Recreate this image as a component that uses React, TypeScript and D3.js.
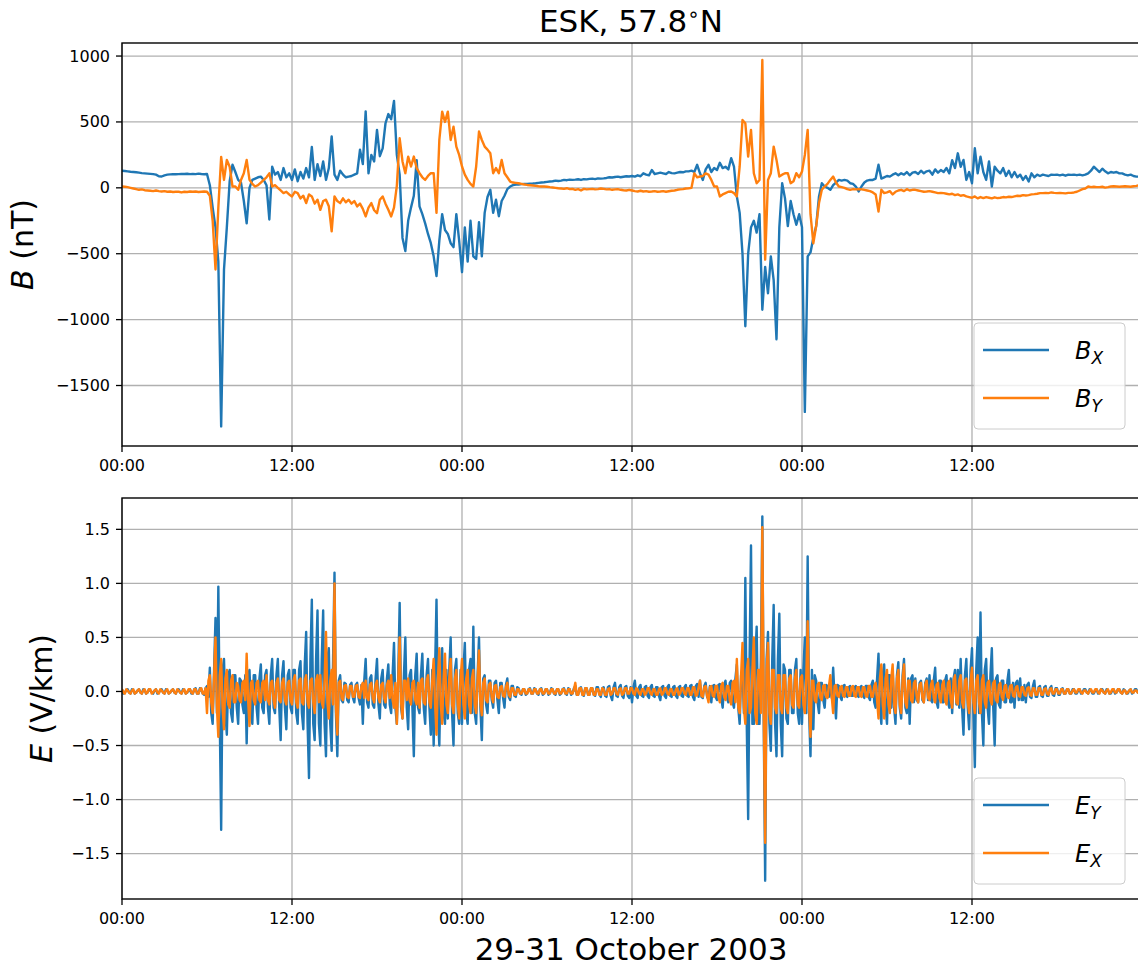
import React, { useEffect, useRef } from 'react'
import * as d3 from 'd3'

const W = 1138
const H = 968
const FONT = 'DejaVu Sans, Liberation Sans, sans-serif'
const BLUE = '#1f77b4'
const ORANGE = '#ff7f0e'

// hours from 29 Oct 2003 00:00 UT; B sampled every 0.2 h, E every 0.1 h (one row per hour)
const B_STEP = 0.2
const E_STEP = 0.1
const HOUR_TICKS = [0, 12, 24, 36, 48, 60]
const HOUR_LABELS = ['00:00', '12:00', '00:00', '12:00', '00:00', '12:00']
const B_TICKS = [1000, 500, 0, -500, -1000, -1500]
const E_TICKS = [1.5, 1.0, 0.5, 0.0, -0.5, -1.0, -1.5]

const bx = [
  130, 128, 125, 122, 120,
  118, 115, 112, 110, 108,
  106, 104, 100, 88, 86,
  95, 100, 102, 104, 103,
  104, 106, 105, 107, 104,
  106, 104, 108, 105, 103,
  105, 20, -150, -300, -560,
  -1810, -620, -300, 50, 175,
  120, 60, 40, -100, -270,
  0, 60, 70, 80, 85,
  60, 20, -240, 160, 100,
  120, 60, 150, 80, 110,
  60, 140, 50, 120, 70,
  150, 80, 310, 60, 180,
  90, 200, 60, 150, 390,
  100, 60, 130, 100, 80,
  85, 90, 100, 110, 290,
  180, 580, 110, 250, 200,
  440, 240, 300, 490, 560,
  520, 660, 250, 100, -380,
  -480, -250, -150, -60, 210,
  -140, -200, -270, -350, -420,
  -520, -670, -400, -200, -320,
  -350, -420, -450, -200, -400,
  -640, -300, -560, -250, -520,
  -540, -260, -520, -190, -70,
  -15, -190, -90, -215, -100,
  -60, -10, 10, 20, 25,
  25, 28, 30, 30, 32,
  33, 35, 38, 40, 42,
  45, 48, 50, 55, 52,
  55, 60, 58, 62, 60,
  62, 65, 60, 66, 64,
  68, 70, 66, 72, 70,
  72, 75, 80, 78, 82,
  85, 80, 84, 88, 86,
  90, 85, 95, 88, 110,
  100, 95, 135, 105, 110,
  115, 110, 105, 120, 112,
  110, 115, 120, 118, 125,
  125, 130, 120, 175, 110,
  60, 140, 175, 120, 150,
  135, 190, 150, 160, 140,
  225, 160, -65, -190, -500,
  -1050, -500, -300, -250, -340,
  -200, -925, -600, -800, -520,
  -700, -1150, -300, 35, -80,
  -290, -100, -200, -280, -200,
  -300, -1700, -520, -490, -380,
  -290, -65, 35, 10, 0,
  -15, 20, 40, 60, 55,
  60, 55, 35, 30, 10,
  -28, 10, 40, 55, 60,
  60, 70, 175, 70, 80,
  90, 85, 100, 110, 95,
  110, 100, 120, 95, 115,
  120, 105, 130, 110, 125,
  130, 100, 140, 115, 135,
  120, 150, 110, 210, 150,
  262, 160, 212, 60, 120,
  35, 300, 110, 237, 120,
  60, 200, 10, 160, 130,
  110, 150, 90, 130, 80,
  120, 80, 100, 60, 90,
  48, 110, 80, 100, 90,
  100, 95, 90, 100, 98,
  100, 95, 100, 92, 100,
  98, 100, 96, 100, 95,
  100, 110, 130, 160, 140,
  120, 145, 125, 110, 120,
  115, 120, 110, 110, 100,
  95, 100, 90, 85, 85,
  85,
]

const by = [
  10, 8, 5, 0, -5,
  -10, -15, -12, -18, -20,
  -22, -25, -20, -25, -28,
  -25, -30, -28, -32, -30,
  -30, -35, -30, -32, -28,
  -30, -28, -32, -30, -28,
  -30, -60, -250, -620, -150,
  235, 60, 212, 160, 10,
  10, -15, 60, 110, 212,
  60, 30, 10, 20, 40,
  60, 80, 110, 10, 20,
  0, -20, -40, -30, -50,
  -65, -30, -40, -80, -60,
  -116, -50, -65, -120, -90,
  -167, -100, -90, -140, -330,
  -65, -100, -116, -80, -110,
  -90, -120, -100, -141, -120,
  -160, -217, -150, -116, -170,
  -192, -91, -65, -120, -167,
  -217, -150, 15, 376, 200,
  111, 237, 162, 237, 150,
  111, 80, 60, 90, 111,
  111, -190, 363, 578, 500,
  578, 363, 464, 313, 250,
  162, 100, 60, 30, 10,
  162, 427, 363, 313, 290,
  262, 111, 150, 111, 212,
  111, 80, 48, 40, 38,
  35, 30, 25, 22, 20,
  18, 15, 12, 10, 10,
  8, 5, 3, 0, -3,
  -5, -8, -3, -10, -8,
  -15, -10, -20, -8, -12,
  -10, -8, -12, -10, -5,
  -8, -12, -10, -15, -12,
  -10, -15, -18, -20, -15,
  -20, -25, -28, -22, -28,
  -25, -30, -28, -25, -30,
  -28, -25, -30, -26, -22,
  -20, -15, -12, -10, -5,
  -3, 0, 110, 80, 86,
  90, 110, 100, 60, 10,
  10, -65, -50, -40, -30,
  -28, -40, -65, 162, 515,
  490, 237, 440, 111, 35,
  60, 970, -545, 60, 111,
  313, 212, 86, 100, 111,
  111, 35, 50, 111, 80,
  124, 250, 440, -200, -420,
  -290, -116, -15, 10, 30,
  60, 85, 40, 10, 5,
  0, -10, -15, -10, -12,
  -10, -12, -15, -20, -25,
  -35, -50, -180, -15, -40,
  -35, -25, -50, -30, -20,
  -15, -25, -10, -20, -15,
  -15, -20, -25, -30, -28,
  -25, -30, -35, -40, -38,
  -40, -45, -50, -45, -55,
  -50, -60, -55, -65, -70,
  -75, -65, -80, -70, -78,
  -70, -75, -80, -72, -78,
  -75, -70, -72, -68, -70,
  -65, -60, -62, -55, -58,
  -55, -50, -48, -45, -40,
  -40, -38, -40, -35, -38,
  -40, -38, -40, -42, -38,
  -38, -35, -30, -20, -10,
  -5, 10, 5, 8, 5,
  5, 8, 2, 5, 10,
  12, 10, 8, 10, 12,
  10, 8, 12, 15, 20,
  15,
]

const ey = [
  0.02, -0.02, -0.01, 0.01, 0.02, -0.01, -0.02, 0.02, 0.01, -0.02,
  -0.01, 0.01, 0.02, -0.01, -0.02, 0.02, 0.01, -0.02, -0.01, 0.02,
  0.01, -0.01, -0.02, 0.01, 0.02, -0.02, -0.01, 0.01, 0.02, -0.01,
  -0.02, 0.02, 0.01, -0.02, -0.01, 0.01, 0.02, -0.01, -0.02, 0.01,
  0.02, -0.01, -0.02, 0.02, 0.01, -0.02, -0.01, 0.01, 0.02, -0.02,
  -0.02, 0.02, 0.03, -0.02, -0.02, 0.03, 0.02, -0.02, -0.03, 0.03,
  0.05, -0.05, 0.22, -0.2, -0.3, 0.2, 0.68, -0.2, 0.97, -0.25,
  -1.28, 0.2, 0.3, -0.2, -0.4, 0.15, 0.2, -0.2, -0.28, 0.15,
  0.15, -0.15, -0.3, 0.12, 0.1, -0.12, -0.2, 0.15, -0.48, 0.15,
  0.2, -0.15, -0.3, 0.15, 0.15, -0.15, -0.3, 0.12, 0.25, -0.15,
  -0.2, 0.15, 0.2, -0.15, -0.3, 0.15, 0.3, -0.15, -0.2, 0.15,
  0.3, -0.15, -0.45, 0.15, 0.28, -0.15, -0.35, 0.15, 0.2, -0.15,
  -0.2, 0.2, 0.2, -0.2, -0.3, 0.2, 0.28, -0.2, -0.35, 0.25,
  0.55, -0.3, -0.8, 0.3, 0.85, -0.3, -0.45, 0.3, 0.75, -0.3,
  -0.5, 0.3, 0.75, -0.3, -0.6, 0.3, 0.4, -0.3, -0.55, 0.3,
  1.1, -0.2, -0.6, 0.1, 0.15, -0.08, -0.1, 0.08, 0.07, -0.08,
  -0.1, 0.06, 0.08, -0.06, -0.1, 0.06, 0.08, -0.06, -0.12, 0.06,
  -0.3, 0.1, 0.3, -0.1, -0.15, 0.12, 0.15, -0.12, -0.15, 0.12,
  0.3, -0.12, -0.25, 0.12, 0.2, -0.12, -0.15, 0.12, 0.25, -0.12,
  -0.2, 0.15, 0.45, -0.15, -0.3, 0.15, 0.82, -0.15, -0.25, 0.15,
  0.5, -0.15, -0.35, 0.15, 0.2, -0.15, -0.6, 0.15, 0.35, -0.15,
  -0.2, 0.15, 0.35, -0.15, -0.3, 0.15, 0.3, -0.15, -0.4, 0.2,
  -0.5, 0.2, 0.85, -0.2, -0.5, 0.2, 0.4, -0.2, -0.3, 0.2,
  -0.25, 0.2, 0.5, -0.2, -0.5, 0.2, 0.3, -0.2, -0.3, 0.2,
  -0.3, 0.2, 0.45, -0.2, -0.3, 0.2, 0.3, -0.2, 0.6, -0.2,
  -0.3, 0.15, 0.5, -0.15, -0.45, 0.12, 0.15, -0.12, -0.2, 0.1,
  0.1, -0.08, -0.15, 0.08, 0.1, -0.08, -0.2, 0.08, 0.08, -0.06,
  -0.15, 0.06, 0.12, -0.05, -0.08, 0.05, 0.05, -0.04, -0.05, 0.04,
  0.03, -0.02, -0.03, 0.02, 0.02, -0.03, -0.02, 0.02, 0.03, -0.02,
  -0.02, 0.03, 0.02, -0.02, -0.03, 0.02, 0.03, -0.03, -0.02, 0.02,
  0.02, -0.03, -0.02, 0.03, 0.02, -0.02, -0.03, 0.02, 0.02, -0.03,
  -0.02, 0.02, 0.03, -0.02, -0.03, 0.03, 0.02, -0.03, -0.02, 0.03,
  0.05, -0.03, -0.03, 0.03, 0.04, -0.03, -0.04, 0.03, 0.03, -0.03,
  -0.03, 0.03, 0.03, -0.03, -0.04, 0.04, 0.04, -0.03, -0.05, 0.03,
  0.04, -0.04, -0.05, 0.04, 0.05, -0.04, -0.08, 0.04, 0.08, -0.04,
  -0.05, 0.04, 0.06, -0.04, -0.06, 0.04, 0.05, -0.04, -0.06, 0.04,
  -0.1, 0.04, 0.1, -0.04, -0.06, 0.04, 0.06, -0.04, -0.05, 0.04,
  0.05, -0.04, -0.06, 0.04, 0.06, -0.04, -0.05, 0.04, 0.04, -0.04,
  -0.08, 0.04, 0.05, -0.04, -0.06, 0.04, 0.06, -0.04, -0.05, 0.04,
  0.05, -0.04, -0.06, 0.04, 0.05, -0.04, -0.05, 0.04, 0.06, -0.04,
  -0.05, 0.05, 0.06, -0.05, -0.08, 0.05, 0.07, -0.05, 0.1, -0.05,
  -0.06, 0.05, 0.08, -0.05, -0.07, 0.05, -0.1, 0.05, 0.06, -0.05,
  -0.08, 0.06, 0.07, -0.06, -0.15, 0.06, 0.1, -0.06, -0.1, 0.08,
  0.1, -0.1, -0.15, 0.12, 0.25, -0.15, -0.3, 0.15, 0.2, -0.2,
  1.05, -0.3, -1.18, 0.3, 1.35, -0.3, -0.3, 0.3, 0.6, -0.3,
  -0.3, 0.3, 1.62, -0.3, -1.75, 0.3, 0.55, -0.3, -0.55, 0.3,
  0.8, -0.3, -0.6, 0.3, 0.72, -0.3, -0.6, 0.25, 0.2, -0.25,
  -0.3, 0.2, 0.2, -0.2, -0.2, 0.2, 0.3, -0.2, -0.3, 0.2,
  -0.3, 0.2, 0.5, -0.2, 1.25, -0.2, -0.6, 0.2, -0.35, 0.15,
  0.1, -0.1, -0.2, 0.08, 0.08, -0.08, -0.15, 0.06, 0.05, -0.05,
  0.1, -0.06, 0.22, -0.06, -0.25, 0.06, 0.05, -0.05, -0.08, 0.05,
  0.06, -0.04, -0.05, 0.04, 0.05, -0.04, -0.04, 0.04, 0.05, -0.04,
  -0.05, 0.04, 0.05, -0.04, -0.06, 0.05, 0.05, -0.05, -0.08, 0.06,
  0.1, -0.1, -0.15, 0.12, 0.35, -0.15, -0.3, 0.15, 0.25, -0.15,
  -0.3, 0.15, 0.15, -0.15, 0.2, -0.15, -0.3, 0.15, 0.27, -0.15,
  -0.25, 0.15, 0.3, -0.15, -0.2, 0.12, -0.3, 0.12, 0.15, -0.1,
  0.12, -0.08, -0.1, 0.08, 0.1, -0.08, -0.1, 0.08, 0.12, -0.08,
  0.15, -0.08, -0.1, 0.1, 0.22, -0.1, -0.15, 0.1, 0.1, -0.1,
  -0.1, 0.1, 0.15, -0.1, -0.15, 0.12, -0.2, 0.12, 0.2, -0.12,
  0.2, -0.15, 0.3, -0.15, -0.4, 0.15, 0.3, -0.15, -0.35, 0.2,
  0.4, -0.2, -0.7, 0.2, 0.5, -0.2, 0.73, -0.2, -0.5, 0.2,
  0.3, -0.15, -0.3, 0.15, 0.4, -0.15, -0.5, 0.12, 0.15, -0.12,
  -0.15, 0.1, 0.1, -0.1, -0.1, 0.1, 0.2, -0.1, -0.1, 0.08,
  -0.15, 0.08, 0.1, -0.08, 0.12, -0.08, -0.08, 0.06, -0.1, 0.06,
  0.08, -0.05, -0.06, 0.05, 0.1, -0.05, -0.05, 0.04, 0.05, -0.04,
  -0.05, 0.04, 0.05, -0.04, -0.04, 0.03, 0.05, -0.03, -0.04, 0.03,
  0.03, -0.03, -0.03, 0.02, 0.03, -0.02, -0.02, 0.02, 0.02, -0.02,
  -0.02, 0.02, 0.02, -0.02, -0.02, 0.01, 0.02, -0.02, -0.01, 0.02,
  0.02, -0.01, -0.02, 0.02, 0.01, -0.02, -0.02, 0.01, 0.02, -0.02,
  -0.01, 0.02, 0.02, -0.01, -0.02, 0.02, 0.01, -0.02, -0.02, 0.01,
  0.02, -0.02, -0.01, 0.02, 0.02, -0.01, -0.02, 0.02, 0.01, -0.02,
  -0.02, 0.01, 0.02, -0.02, -0.01, 0.02, 0.02, -0.01, -0.01, 0.01,
  0.01,
]

const ex = [
  0.02, -0.01, -0.02, 0.02, 0.01, -0.01, -0.02, 0.01, 0.02, -0.02,
  -0.01, 0.01, 0.02, -0.01, -0.02, 0.01, 0.02, -0.02, -0.01, 0.02,
  0.02, -0.02, -0.01, 0.01, 0.02, -0.01, -0.02, 0.02, 0.01, -0.01,
  -0.02, 0.01, 0.02, -0.02, -0.01, 0.01, 0.02, -0.01, -0.02, 0.02,
  0.01, -0.01, -0.02, 0.01, 0.02, -0.02, -0.01, 0.02, 0.02, -0.01,
  -0.02, 0.02, 0.02, -0.02, -0.02, 0.02, 0.03, -0.02, -0.02, 0.03,
  -0.2, 0.1, 0.15, -0.1, -0.2, 0.15, 0.5, -0.15, -0.42, 0.15,
  0.3, -0.15, -0.35, 0.12, 0.2, -0.12, -0.15, 0.1, 0.15, -0.1,
  -0.1, 0.08, 0.05, -0.08, -0.1, 0.08, 0.1, -0.08, 0.35, -0.08,
  -0.32, 0.08, 0.1, -0.08, -0.12, 0.08, 0.1, -0.08, -0.1, 0.08,
  0.1, -0.08, 0.15, -0.08, -0.12, 0.08, 0.1, -0.08, -0.15, 0.08,
  0.12, -0.08, -0.1, 0.08, 0.12, -0.08, -0.12, 0.08, 0.1, -0.08,
  -0.12, 0.1, 0.15, -0.1, -0.15, 0.1, 0.12, -0.1, -0.12, 0.1,
  0.15, -0.1, -0.15, 0.1, 0.12, -0.1, -0.2, 0.1, 0.15, -0.1,
  0.15, -0.1, -0.15, 0.1, 0.55, -0.1, -0.25, 0.1, 0.2, -0.12,
  1.0, -0.15, -0.4, 0.08, 0.1, -0.06, -0.08, 0.05, 0.06, -0.05,
  -0.06, 0.05, 0.05, -0.05, -0.05, 0.05, 0.06, -0.05, -0.06, 0.05,
  0.08, -0.06, 0.1, -0.06, -0.08, 0.06, 0.08, -0.06, -0.1, 0.06,
  0.1, -0.06, -0.1, 0.06, 0.08, -0.06, -0.1, 0.06, 0.1, -0.06,
  0.15, -0.08, -0.15, 0.08, -0.3, 0.1, 0.5, -0.1, -0.25, 0.1,
  0.1, -0.08, 0.12, -0.08, -0.12, 0.08, 0.1, -0.08, -0.12, 0.08,
  -0.15, 0.1, 0.12, -0.1, -0.12, 0.1, 0.15, -0.1, -0.15, 0.1,
  0.3, -0.12, -0.4, 0.12, 0.4, -0.12, -0.3, 0.12, 0.35, -0.12,
  -0.2, 0.12, 0.3, -0.12, -0.2, 0.12, 0.2, -0.12, -0.25, 0.12,
  0.3, -0.12, -0.25, 0.12, 0.2, -0.12, -0.2, 0.12, 0.2, -0.12,
  -0.2, 0.1, 0.38, -0.1, -0.22, 0.08, 0.12, -0.08, -0.1, 0.06,
  0.08, -0.05, -0.1, 0.05, 0.06, -0.05, -0.06, 0.04, 0.05, -0.04,
  -0.05, 0.04, 0.08, -0.03, -0.05, 0.03, 0.03, -0.03, -0.03, 0.02,
  0.02, -0.02, -0.02, 0.02, 0.02, -0.02, -0.02, 0.02, 0.02, -0.02,
  -0.02, 0.02, 0.02, -0.02, -0.02, 0.02, 0.02, -0.02, -0.02, 0.02,
  0.02, -0.02, -0.02, 0.02, 0.02, -0.02, -0.02, 0.02, 0.02, -0.02,
  -0.02, 0.02, 0.02, -0.02, -0.02, 0.02, 0.02, -0.02, -0.02, 0.02,
  0.08, -0.03, -0.03, 0.03, 0.03, -0.03, -0.03, 0.03, 0.03, -0.03,
  -0.03, 0.03, 0.03, -0.03, -0.03, 0.02, 0.02, -0.03, -0.03, 0.03,
  0.02, -0.03, -0.03, 0.02, 0.03, -0.03, -0.02, 0.03, 0.03, -0.02,
  -0.03, 0.02, 0.03, -0.03, -0.02, 0.03, 0.03, -0.02, -0.02, 0.03,
  0.03, -0.02, -0.03, 0.03, 0.02, -0.02, -0.03, 0.02, 0.02, -0.03,
  -0.02, 0.03, 0.03, -0.02, -0.03, 0.02, 0.02, -0.03, -0.03, 0.02,
  0.03, -0.03, -0.02, 0.03, 0.03, -0.02, -0.03, 0.02, 0.02, -0.03,
  -0.03, 0.02, 0.03, -0.03, -0.02, 0.03, 0.03, -0.02, -0.03, 0.03,
  0.03, -0.03, -0.03, 0.04, 0.04, -0.04, -0.03, 0.04, 0.1, -0.04,
  -0.05, 0.04, 0.05, -0.04, -0.1, 0.04, 0.05, -0.04, -0.05, 0.05,
  0.05, -0.05, -0.1, 0.05, 0.08, -0.05, -0.08, 0.05, 0.05, -0.08,
  -0.12, 0.08, 0.1, -0.1, 0.3, -0.15, -0.2, 0.15, 0.45, -0.15,
  -0.3, 0.2, 0.3, -0.2, -0.15, 0.2, 0.5, -0.2, -0.3, 0.2,
  0.2, -0.2, 1.52, -0.2, -1.4, 0.2, 0.45, -0.2, -0.3, 0.2,
  0.2, -0.15, -0.2, 0.15, 0.15, -0.15, -0.2, 0.15, 0.15, -0.15,
  -0.2, 0.12, 0.15, -0.12, -0.15, 0.12, 0.2, -0.12, -0.15, 0.12,
  0.15, -0.12, -0.2, 0.12, 0.65, -0.12, -0.42, 0.1, 0.1, -0.08,
  -0.1, 0.06, 0.08, -0.06, -0.08, 0.05, 0.06, -0.05, -0.06, 0.05,
  0.15, -0.05, -0.2, 0.05, 0.06, -0.04, -0.05, 0.04, 0.05, -0.04,
  -0.05, 0.04, 0.04, -0.04, -0.04, 0.04, 0.05, -0.04, -0.05, 0.04,
  0.04, -0.04, -0.05, 0.04, 0.04, -0.04, -0.05, 0.05, 0.05, -0.05,
  -0.05, 0.05, 0.08, -0.08, -0.25, 0.12, 0.25, -0.12, -0.25, 0.12,
  0.2, -0.12, -0.2, 0.12, 0.25, -0.12, -0.2, 0.12, 0.2, -0.12,
  -0.2, 0.1, 0.25, -0.1, -0.15, 0.1, 0.1, -0.08, -0.1, 0.08,
  0.1, -0.06, -0.1, 0.06, 0.08, -0.06, -0.1, 0.06, 0.1, -0.06,
  -0.08, 0.06, 0.1, -0.06, -0.1, 0.06, 0.08, -0.06, -0.1, 0.06,
  0.1, -0.08, -0.12, 0.08, 0.1, -0.08, -0.15, 0.1, 0.15, -0.1,
  -0.12, 0.1, 0.15, -0.1, -0.15, 0.1, 0.12, -0.1, -0.2, 0.1,
  0.22, -0.1, -0.2, 0.1, 0.15, -0.1, -0.2, 0.1, 0.15, -0.1,
  -0.15, 0.08, 0.1, -0.08, -0.12, 0.08, 0.1, -0.08, -0.1, 0.06,
  0.08, -0.05, -0.08, 0.05, 0.06, -0.05, -0.06, 0.05, 0.06, -0.04,
  -0.05, 0.04, 0.05, -0.04, -0.05, 0.04, 0.04, -0.03, -0.04, 0.03,
  0.04, -0.03, -0.04, 0.03, 0.03, -0.03, -0.03, 0.03, 0.03, -0.03,
  -0.03, 0.02, 0.03, -0.02, -0.03, 0.02, 0.03, -0.02, -0.02, 0.02,
  0.02, -0.02, -0.02, 0.02, 0.02, -0.02, -0.02, 0.02, 0.02, -0.02,
  -0.02, 0.01, 0.02, -0.01, -0.01, 0.02, 0.02, -0.01, -0.02, 0.01,
  0.01, -0.01, -0.02, 0.01, 0.02, -0.01, -0.01, 0.02, 0.02, -0.01,
  -0.02, 0.02, 0.01, -0.01, -0.02, 0.01, 0.02, -0.02, -0.01, 0.02,
  0.02, -0.01, -0.01, 0.02, 0.02, -0.01, -0.02, 0.01, 0.01, -0.02,
  -0.01, 0.01, 0.02, -0.01, -0.01, 0.01, 0.01, -0.01, -0.01, 0.01,
  0.0,
]

type Series = { values: number[]; color: string; sym: string; sub: string }

function drawPanel(svg: any, x: any, id: string, top: number, bottom: number,
  yDomain: number[], yTicks: number[], fmt: (v: number) => string, step: number,
  series: Series[], legendTop: number, labelSym: string, labelRest: string, labelX: number) {
  const left = x.range()[0]
  const right = x.range()[1]
  const y = d3.scaleLinear().domain(yDomain).range([bottom, top])
  const g = svg.append('g')

  // grid
  g.selectAll('.vg').data(HOUR_TICKS).enter().append('line')
    .attr('x1', (d: number) => x(d)).attr('x2', (d: number) => x(d))
    .attr('y1', top).attr('y2', bottom)
    .attr('stroke', '#b0b0b0').attr('stroke-width', 1.3)
  g.selectAll('.hg').data(yTicks).enter().append('line')
    .attr('x1', left).attr('x2', right)
    .attr('y1', (d: number) => y(d)).attr('y2', (d: number) => y(d))
    .attr('stroke', '#b0b0b0').attr('stroke-width', 1.3)

  // data lines
  svg.append('clipPath').attr('id', id)
    .append('rect').attr('x', left).attr('y', top).attr('width', right - left).attr('height', bottom - top)
  const line = d3.line<number>()
    .x((d, i) => x(i * step))
    .y(d => y(d))
  series.forEach(s => {
    g.append('path')
      .attr('d', line(s.values))
      .attr('clip-path', `url(#${id})`)
      .attr('fill', 'none')
      .attr('stroke', s.color)
      .attr('stroke-width', 2.4)
      .attr('stroke-linejoin', 'round')
  })

  // spines
  g.append('rect')
    .attr('x', left).attr('y', top).attr('width', right - left).attr('height', bottom - top)
    .attr('fill', 'none').attr('stroke', '#000').attr('stroke-width', 1.4)

  // ticks
  g.selectAll('.xt').data(HOUR_TICKS).enter().append('line')
    .attr('x1', (d: number) => x(d)).attr('x2', (d: number) => x(d))
    .attr('y1', bottom).attr('y2', bottom + 6)
    .attr('stroke', '#000').attr('stroke-width', 1.3)
  g.selectAll('.xl').data(HOUR_TICKS).enter().append('text')
    .attr('x', (d: number) => x(d)).attr('y', bottom + 25)
    .attr('text-anchor', 'middle')
    .style('font-family', FONT).style('font-size', '16px')
    .text((d: number, i: number) => HOUR_LABELS[i])
  g.selectAll('.yt').data(yTicks).enter().append('line')
    .attr('x1', left - 6).attr('x2', left)
    .attr('y1', (d: number) => y(d)).attr('y2', (d: number) => y(d))
    .attr('stroke', '#000').attr('stroke-width', 1.3)
  g.selectAll('.yl').data(yTicks).enter().append('text')
    .attr('x', left - 12).attr('y', (d: number) => y(d) + 5.5)
    .attr('text-anchor', 'end')
    .style('font-family', FONT).style('font-size', '16px')
    .text((d: number) => fmt(d))

  // y label
  const yl = g.append('text')
    .attr('transform', `translate(${labelX},${(top + bottom) / 2}) rotate(-90)`)
    .attr('text-anchor', 'middle')
    .style('font-family', FONT).style('font-size', '30px')
  yl.append('tspan').style('font-style', 'italic').text(labelSym)
  yl.append('tspan').text(labelRest)

  // legend
  const lg = g.append('g')
  lg.append('rect')
    .attr('x', 974).attr('y', legendTop).attr('width', 151).attr('height', 106).attr('rx', 4)
    .attr('fill', 'white').attr('fill-opacity', 0.8)
    .attr('stroke', '#cccccc').attr('stroke-width', 1)
  series.forEach((s, i) => {
    const ly = legendTop + 27 + i * 48
    lg.append('line')
      .attr('x1', 983).attr('x2', 1049).attr('y1', ly).attr('y2', ly)
      .attr('stroke', s.color).attr('stroke-width', 2.4)
    const t = lg.append('text')
      .attr('x', 1075).attr('y', ly + 9)
      .style('font-family', FONT).style('font-style', 'italic').style('font-size', '24px')
    t.append('tspan').text(s.sym)
    t.append('tspan').attr('dy', 5).style('font-size', '17px').text(s.sub)
  })
}

export default function App() {
  const ref = useRef<SVGSVGElement>(null)

  useEffect(() => {
    const svg = d3.select(ref.current)
    svg.selectAll('*').remove()
    const x = d3.scaleLinear().domain([0, 72]).range([122, 1142])

    const minus = (s: string) => s.replace('-', '\u2212')

    drawPanel(svg, x, 'clipB', 43, 446, [-1959, 1099], B_TICKS,
      v => minus(String(v)), B_STEP,
      [{ values: bx, color: BLUE, sym: 'B', sub: 'X' }, { values: by, color: ORANGE, sym: 'B', sub: 'Y' }],
      323, 'B', ' (nT)', 33)

    drawPanel(svg, x, 'clipE', 498, 899, [-1.92, 1.79], E_TICKS,
      v => minus(v.toFixed(1)), E_STEP,
      [{ values: ey, color: BLUE, sym: 'E', sub: 'Y' }, { values: ex, color: ORANGE, sym: 'E', sub: 'X' }],
      778, 'E', ' (V/km)', 52)

    // title
    const title = svg.append('text')
      .attr('x', 631).attr('y', 32)
      .attr('text-anchor', 'middle')
      .style('font-family', FONT).style('font-size', '31px')
    title.append('tspan').text('ESK, 57.8')
    title.append('tspan').attr('dy', -11).style('font-size', '20px').text('\u2218')
    title.append('tspan').attr('dy', 11).text('N')

    svg.append('text')
      .attr('x', 631).attr('y', 960)
      .attr('text-anchor', 'middle')
      .style('font-family', FONT).style('font-size', '31px')
      .text('29-31 October 2003')
  }, [])

  return (
    <div style={{ position: 'absolute', left: 0, top: 0 }}>
      <svg ref={ref} width={W} height={H} style={{ display: 'block', background: '#fff' }} />
    </div>
  )
}
